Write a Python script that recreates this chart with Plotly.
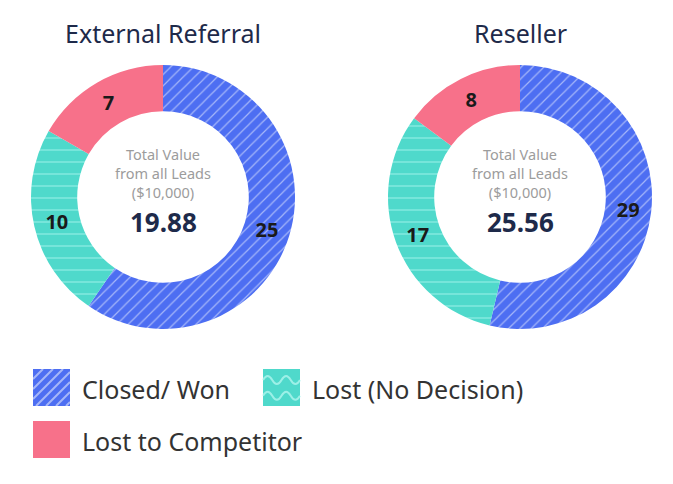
import plotly.graph_objects as go

W, H = 673, 484

categories = ["Closed/ Won", "Lost (No Decision)", "Lost to Competitor"]
external_referral = [25, 10, 7]
reseller = [29, 17, 8]
chart_titles = ["External Referral", "Reseller"]
total_values = ["19.88", "25.56"]
center_caption = "Total Value<br>from all Leads<br>($10,000)"

colors = ["#4d6ef2", "#4fd9cb", "#f7718a"]
FONT = "Noto Sans"


def px(x):
    return x / W


def py(y):
    return 1 - y / H


# pie placement (pixels): center x, center y, outer radius
pies = [(163, 197, 132), (520, 197, 132)]

pattern = dict(
    shape=["/", "-", ""],
    fgcolor=["rgba(255,255,255,0.5)", "rgba(170,245,238,0.6)", "rgba(0,0,0,0)"],
    bgcolor=colors,
    size=[8, 12, 8],
    solidity=[0.15, 0.12, 0.1],
    fillmode="replace",
)

fig = go.Figure()
for vals, (cx, cy, r), name in zip([external_referral, reseller], pies, chart_titles):
    fig.add_trace(go.Pie(
        labels=categories,
        values=vals,
        name=name,
        hole=0.65,
        sort=False,
        direction="clockwise",
        rotation=0,
        marker=dict(colors=colors, pattern=pattern, line=dict(width=0)),
        textinfo="value",
        textposition="inside",
        insidetextorientation="horizontal",
        textfont=dict(family=FONT, size=20, color="#1a1a1a", weight="bold"),
        domain=dict(x=[px(cx - r), px(cx + r)], y=[py(cy + r), py(cy - r)]),
        showlegend=False,
        hoverinfo="label+value",
    ))

annotations = []
shapes = []
for (cx, cy, r), title, tv in zip(pies, chart_titles, total_values):
    annotations.append(dict(x=px(cx), y=py(33), xref="paper", yref="paper", text=title,
                            showarrow=False, font=dict(family=FONT, size=25, color="#1e2a4a"),
                            xanchor="center", yanchor="middle"))
    annotations.append(dict(x=px(cx), y=py(173), xref="paper", yref="paper", text=center_caption,
                            showarrow=False, font=dict(family=FONT, size=14.5, color="#9c9c9c"),
                            xanchor="center", yanchor="middle"))
    annotations.append(dict(x=px(cx), y=py(222), xref="paper", yref="paper", text="<b>%s</b>" % tv,
                            showarrow=False, font=dict(family=FONT, size=26, color="#1e2a4a"),
                            xanchor="center", yanchor="middle"))

# manual legend
leg_items = [(33, 369, 0), (263, 369, 1), (33, 421, 2)]
S = 37
for (x0, y0, i) in leg_items:
    shapes.append(dict(type="rect", xref="paper", yref="paper",
                       x0=px(x0), x1=px(x0 + S), y0=py(y0 + S), y1=py(y0),
                       fillcolor=colors[i], line=dict(width=0), layer="above"))
    if i == 0:
        d = 10
        c = x0 + y0 + d
        while c < x0 + y0 + 2 * S:
            # line x + y = c clipped to square
            xa = max(x0, c - (y0 + S))
            xb = min(x0 + S, c - y0)
            if xb > xa:
                shapes.append(dict(type="line", xref="paper", yref="paper",
                                   x0=px(xa), y0=py(c - xa), x1=px(xb), y1=py(c - xb),
                                   line=dict(color="rgba(255,255,255,0.5)", width=2), layer="above"))
            c += d
    elif i == 1:
        p = S / 2.0
        a = 4
        for yy in (y0 + S * 0.3, y0 + S * 0.72):
            path = "M %f,%f Q %f,%f %f,%f T %f,%f T %f,%f T %f,%f" % (
                px(x0), py(yy),
                px(x0 + p / 4), py(yy - 2 * a), px(x0 + p / 2), py(yy),
                px(x0 + p), py(yy),
                px(x0 + 1.5 * p), py(yy),
                px(x0 + 2 * p), py(yy))
            shapes.append(dict(type="path", xref="paper", yref="paper", path=path,
                               line=dict(color="rgba(175,245,238,0.8)", width=2), layer="above"))
    annotations.append(dict(x=px(x0 + S + 10), y=py(y0 + S / 2 + 1), xref="paper", yref="paper",
                            text=categories[i], showarrow=False, xanchor="left", yanchor="middle",
                            font=dict(family=FONT, size=25, color="#333333")))

fig.update_layout(
    width=W, height=H,
    margin=dict(l=0, r=0, t=0, b=0),
    paper_bgcolor="white", plot_bgcolor="white",
    annotations=annotations, shapes=shapes,
    showlegend=False,
)

fig.write_html("out.html")
